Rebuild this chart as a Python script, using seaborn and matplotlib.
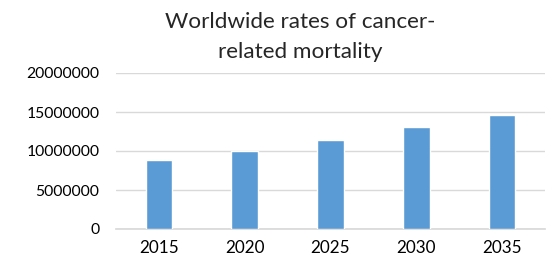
import pandas as pd
import matplotlib
matplotlib.use("Agg")
import matplotlib.pyplot as plt
import seaborn as sns

# values
years = ["2015", "2020", "2025", "2030", "2035"]
deaths = [8850000, 10000000, 11400000, 13050000, 14650000]
yticks = [0, 5000000, 10000000, 15000000, 20000000]

df = pd.DataFrame({"year": years, "deaths": deaths})

sns.set_theme(style="white")
plt.rcParams["font.family"] = ["Lato", "DejaVu Sans"]

fig = plt.figure(figsize=(5.53, 2.57), dpi=100)
# plot area: x 116..545 px, y 73..229 px
ax = fig.add_axes([116 / 553, 1 - 229 / 257, 429 / 553, 156 / 257])

sns.barplot(data=df, x="year", y="deaths", color="#5b9bd5", width=0.31,
            saturation=1, ax=ax, zorder=3)

ax.set_ylim(0, 20000000)
ax.set_yticks(yticks)
ax.set_yticklabels([str(v) for v in yticks])
ax.set_xlim(-0.5, len(years) - 0.5)
ax.yaxis.grid(True, color="#d9d9d9", linewidth=1, zorder=0)
ax.set_axisbelow(True)

for side in ["top", "right", "left"]:
    ax.spines[side].set_visible(False)
ax.spines["bottom"].set_color("#d9d9d9")

ax.tick_params(axis="y", length=0, labelsize=11.3, colors="#000000", pad=12)
ax.tick_params(axis="x", length=0, labelsize=12.3, colors="#000000", pad=8)
ax.set_xlabel("")
ax.set_ylabel("")

fig.text(0.5425, 1 - 28 / 257, "Worldwide rates of cancer-",
         ha="center", va="baseline", fontsize=16.2)
fig.text(0.5425, 1 - 58 / 257, "related mortality",
         ha="center", va="baseline", fontsize=16.2)

fig.savefig("out.png", dpi=100)
